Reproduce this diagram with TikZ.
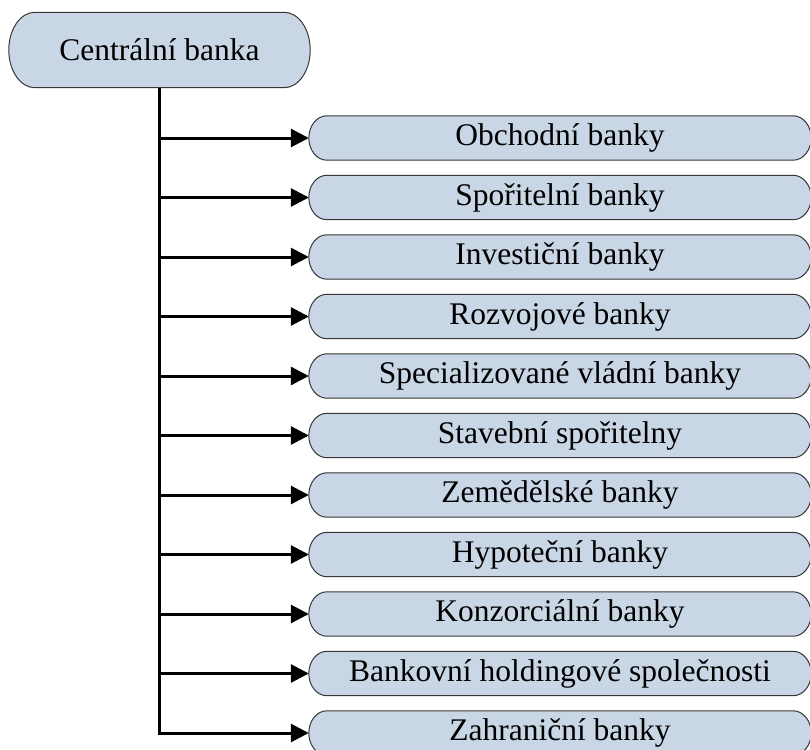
\documentclass[tikz,border=0pt]{standalone}
\usepackage{fontspec}
\setmainfont{Liberation Serif}
\usetikzlibrary{arrows.meta,backgrounds,calc}

\definecolor{capfill}{RGB}{201,214,229}
\definecolor{capline}{RGB}{55,55,55}

\tikzset{
  label text/.style={font=\fontsize{31.5}{36}\selectfont, inner sep=0pt, text=black},
  link/.style={line width=3pt, -{Triangle[length=18pt,width=18pt]}},
  trunk/.style={line width=3pt},
  capsule/.style={fill=capfill, draw=capline, line width=1pt}
}

% capsule outline around node #1: straight top and bottom, elliptic ends of horizontal radius #2
\newcommand\capsuleshape[2]{%
  \path let \p1=(#1.north), \p2=(#1.south) in
    [capsule] ([xshift=#2]#1.north west) -- ([xshift=-#2]#1.north east)
    arc[start angle=90, end angle=-90, x radius=#2, y radius={(\y1-\y2)/2}]
    -- ([xshift=#2]#1.south west)
    arc[start angle=270, end angle=90, x radius=#2, y radius={(\y1-\y2)/2}]
    -- cycle;}

\begin{document}
\begin{tikzpicture}[x=1pt, y=-1pt]
  \useasboundingbox (0,0) rectangle (810,749);

  % root
  \node[label text, minimum width=301pt, minimum height=75pt] (root) at (159.5,50) {Centrální banka};

  % branches
  \node[label text, minimum width=502pt, minimum height=44pt] (b1)  at (560,138)   {Obchodní banky};
  \node[label text, minimum width=502pt, minimum height=44pt] (b2)  at (560,197.5) {Spořitelní banky};
  \node[label text, minimum width=502pt, minimum height=44pt] (b3)  at (560,257)   {Investiční banky};
  \node[label text, minimum width=502pt, minimum height=44pt] (b4)  at (560,316.5) {Rozvojové banky};
  \node[label text, minimum width=502pt, minimum height=44pt] (b5)  at (560,376)   {Specializované vládní banky};
  \node[label text, minimum width=502pt, minimum height=44pt] (b6)  at (560,435.5) {Stavební spořitelny};
  \node[label text, minimum width=502pt, minimum height=44pt] (b7)  at (560,495)   {Zemědělské banky};
  \node[label text, minimum width=502pt, minimum height=44pt] (b8)  at (560,554.5) {Hypoteční banky};
  \node[label text, minimum width=502pt, minimum height=44pt] (b9)  at (560,614)   {Konzorciální banky};
  \node[label text, minimum width=502pt, minimum height=44pt] (b10) at (560,673.5) {Bankovní holdingové společnosti};
  \node[label text, minimum width=502pt, minimum height=44pt] (b11) at (560,733)   {Zahraniční banky};

  \begin{scope}[on background layer]
    \capsuleshape{root}{26pt}
    \foreach \b in {b1,b2,b3,b4,b5,b6,b7,b8,b9,b10,b11}
      {\capsuleshape{\b}{18pt}}
  \end{scope}

  % trunk and branch arrows
  \coordinate (end) at (root.south |- b11.west);
  \draw[trunk] (root.south) -- ([yshift=-1.5pt]end);
  \foreach \b in {b1,b2,b3,b4,b5,b6,b7,b8,b9,b10,b11}
    \draw[link] (root.south |- \b.west) -- (\b.west);
\end{tikzpicture}
\end{document}
